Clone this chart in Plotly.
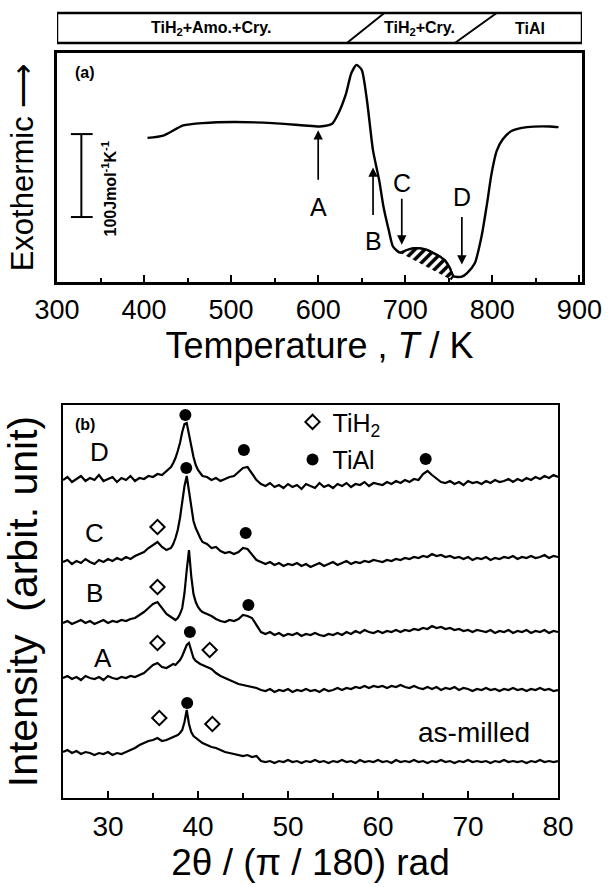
import plotly.graph_objects as go

FONT = "Liberation Sans, Arial, sans-serif"

# ---------------- Panel (a): DSC curve ----------------
dsc_T = [404, 422, 445, 467, 503, 548, 584, 602, 616, 623,
         632, 638, 644, 650, 656, 663, 670, 675, 681, 686,
         694, 702, 710, 717, 725, 732, 740, 746, 751, 755,
         760, 765, 771, 780, 786, 789, 794, 799, 805, 812,
         822, 840, 866, 876]
dsc_heat = [173.7, 176.5, 188.7, 191.5, 192.8, 191.5, 188.7, 187.5, 190.7, 202.9,
            227.2, 251.6, 261.7, 255.7, 219.1, 158.3, 122.9, 90.7, 62.6, 42.5,
            35.3, 38.5, 40.6, 40.4, 38.6, 35.2, 30.5, 25.5, 17.0, 7.0,
            6.0, 6.4, 10.8, 22.9, 46.9, 62.6, 95.0, 130.0, 158.0, 172.0,
            182.0, 186.7, 187.5, 186.7]

# hatched exothermic region (closed polygon)
hatch_T = [694, 702, 710, 717, 725, 732, 740, 746, 751, 755, 752]
hatch_heat = [35.3, 38.5, 40.6, 40.4, 38.6, 35.2, 30.5, 25.5, 17.0, 7.0, 3.0]

# sampling points A-D (arrow head, label position)
point_labels = ["A", "B", "C", "D"]
point_T = [600, 663, 696, 765]
arrow_head = [183, 138, 45, 21]
label_heat = [90, 50, 119, 103]
arrow_gap_px = [12, 10, 0, 5]

# scale bar (100 J mol-1 K-1)
scale_T = 328
scale_base = 78.3
scale_len = 100
scale_label_T = 360
scale_label_heat = 113

# phase band above panel (a)
phase_names = ["TiH<sub>2</sub>+Amo.+Cry.", "TiH<sub>2</sub>+Cry.", "TiAl"]
phase_label_T = [477, 716, 843]
phase_slash_T0 = [633, 757]
phase_slash_T1 = [676, 805]

temp_ticks = [300, 400, 500, 600, 700, 800, 900]

# ---------------- Panel (b): XRD patterns ----------------
two_theta = [25.0, 25.5, 26.0, 26.5, 27.0, 27.5, 28.0, 28.5, 29.0, 29.5,
             30.0, 30.5, 31.0, 31.5, 32.0, 32.5, 33.0, 33.5, 34.0, 34.5,
             35.0, 35.5, 36.0, 36.5, 37.0,
             37.25, 37.5, 37.75, 38.0, 38.25, 38.5, 38.75, 39.0, 39.25, 39.5,
             39.75, 40.0, 40.25, 40.5,
             41.0, 41.5, 42.0, 42.5, 43.0, 43.5, 44.0, 44.5, 45.0, 45.5,
             46.0, 46.5, 47.0, 47.5, 48.0, 48.5, 49.0, 49.5, 50.0, 50.5,
             51.0, 51.5, 52.0, 52.5, 53.0, 53.5, 54.0, 54.5, 55.0, 55.5,
             56.0, 56.5, 57.0, 57.5, 58.0, 58.5, 59.0, 59.5, 60.0,
             60.5, 61.0, 61.5, 62.0, 62.5, 63.0, 63.5, 64.0, 64.5, 65.0,
             65.5, 66.0, 66.5, 67.0, 67.5, 68.0, 68.5, 69.0, 69.5, 70.0,
             70.5, 71.0, 71.5, 72.0, 72.5, 73.0, 73.5, 74.0, 74.5, 75.0,
             75.5, 76.0, 76.5, 77.0, 77.5, 78.0, 78.5, 79.0, 79.5, 80.0]

xrd_D = [318, 321, 316, 319, 322, 317, 320, 318, 323, 317, 319, 321, 316, 320, 318, 322, 317, 320, 319, 322, 321, 324, 323, 327, 331,
         335, 340, 347, 355, 366, 374, 375, 364, 351, 341, 333, 328, 325, 322,
         321, 318, 320, 317, 319, 321, 322, 326, 330, 331, 325, 318, 314, 312, 315, 311, 313, 310, 314, 311,
         313, 309, 314, 312, 310, 315, 311, 313, 310, 314, 312, 315, 311, 314, 313, 316, 312, 315, 314,
         313, 316, 314, 317, 315, 318, 316, 319, 318, 324, 327, 323, 319, 316, 315, 317, 314, 316, 313, 317,
         315, 316, 314, 317, 315, 318, 316, 317, 319, 316, 319, 317, 320, 318, 321, 319, 322, 320, 323, 321]
xrd_C = [236, 238, 234, 237, 235, 239, 236, 234, 238, 236, 239, 237, 240, 238, 241, 239, 242, 244, 246, 250, 253, 256, 251, 248, 250,
         254, 260, 268, 280, 296, 312, 322, 306, 289, 277, 270, 264, 260, 256,
         254, 250, 251, 247, 245, 246, 244, 246, 250, 249, 243, 238, 236, 234, 236, 233, 235, 232, 234, 233,
         235, 232, 234, 231, 233, 235, 232, 234, 236, 233, 235, 237, 234, 236, 235, 237, 236, 238, 237,
         236, 238, 237, 239, 238, 240, 239, 241, 240, 242, 241, 244, 242, 243, 241, 242, 240, 241, 239, 241,
         238, 240, 239, 241, 238, 240, 239, 241, 240, 242, 239, 241, 240, 242, 240, 241, 243, 240, 242, 241]
xrd_B = [175, 177, 174, 176, 178, 175, 177, 174, 176, 178, 175, 177, 176, 178, 177, 179, 180, 183, 186, 190, 194, 196, 190, 184, 181,
         179, 178, 180, 184, 190, 205, 228, 248, 222, 204, 196, 191, 188, 186,
         184, 182, 179, 177, 176, 178, 177, 179, 183, 182, 180, 173, 166, 164, 166, 163, 165, 162, 164, 163,
         165, 162, 164, 163, 165, 163, 162, 164, 163, 165, 163, 166, 164, 167, 165, 168, 166, 165, 167,
         165, 167, 166, 168, 166, 168, 167, 169, 168, 170, 169, 172, 170, 171, 169, 170, 168, 169, 167, 168,
         166, 168, 167, 166, 168, 165, 167, 166, 168, 165, 167, 166, 168, 165, 167, 166, 168, 165, 167, 166]
xrd_A = [120, 122, 119, 121, 118, 122, 120, 119, 121, 118, 122, 120, 119, 121, 120, 122, 121, 123, 125, 129, 133, 135, 131, 130, 133,
         134, 133, 135, 138, 142, 148, 153, 155, 146, 140, 137, 135, 134, 133,
         131, 129, 125, 122, 120, 118, 116, 114, 113, 112, 111, 110, 108, 107, 109, 106, 108, 107, 109, 106,
         108, 107, 109, 107, 108, 106, 109, 107, 108, 110, 108, 110, 109, 111, 110, 112, 110, 112, 111,
         112, 110, 112, 111, 113, 111, 110, 112, 110, 109, 111, 109, 111, 108, 110, 109, 111, 108, 110, 109,
         107, 109, 108, 110, 108, 109, 107, 109, 108, 110, 108, 109, 107, 109, 108, 110, 108, 109, 107, 108]
xrd_milled = [46, 48, 45, 47, 44, 46, 45, 43, 45, 44, 46, 43, 45, 44, 46, 48, 50, 53, 55, 57, 58, 60, 57, 58, 60,
              61, 62, 63, 65, 68, 76, 88, 74, 66, 62, 60, 58, 56, 55,
              53, 51, 50, 48, 46, 45, 44, 43, 42, 43, 41, 42, 37, 36, 37, 35, 37, 36, 38, 36,
              37, 35, 37, 36, 38, 36, 37, 35, 37, 36, 38, 36, 37, 35, 38, 36, 37, 36, 38,
              36, 37, 35, 38, 36, 37, 36, 38, 36, 37, 35, 37, 36, 38, 36, 37, 35, 37, 36, 38,
              36, 37, 36, 37, 35, 37, 36, 38, 36, 37, 36, 37, 35, 37, 36, 38, 36, 37, 36, 37]

# phase markers
tih2_x = [35.5, 35.5, 35.5, 41.3, 35.7, 41.6]
tih2_y = [271, 211, 155, 148, 80, 74]
tial_x = [38.6, 45.1, 65.3, 38.7, 45.3, 45.6, 39.1, 38.8]
tial_y = [383, 348, 339, 330, 265, 193, 166, 95]

# curve labels
xrd_labels = ["(b)", "D", "C", "B", "A", "as-milled"]
xrd_label_x = [27.5, 29.1, 28.5, 28.5, 29.4, 70.7]
xrd_label_y = [374, 346, 265, 205, 140, 66]

theta_ticks = [30, 40, 50, 60, 70, 80]

# ---------------- Figure ----------------
fig = go.Figure()
black = "black"

fig.add_trace(go.Scatter(x=dsc_T, y=dsc_heat, mode="lines",
                         line=dict(color=black, width=2.4, shape="spline", smoothing=0.6),
                         showlegend=False, xaxis="x", yaxis="y", hoverinfo="skip"))
fig.add_trace(go.Scatter(x=hatch_T, y=hatch_heat, mode="lines", fill="toself", fillcolor="white",
                         fillpattern=dict(shape="/", fgcolor=black, bgcolor="white", size=7, solidity=0.5),
                         line=dict(color=black, width=2.2), showlegend=False, xaxis="x", yaxis="y",
                         hoverinfo="skip"))

for ys in [xrd_D, xrd_C, xrd_B, xrd_A, xrd_milled]:
    fig.add_trace(go.Scatter(x=two_theta, y=ys, mode="lines", line=dict(color=black, width=2.2),
                             showlegend=False, xaxis="x2", yaxis="y2", hoverinfo="skip"))

fig.add_trace(go.Scatter(x=tih2_x, y=tih2_y, mode="markers", name="TiH<sub>2</sub>", legendgroup="g1",
                         marker=dict(symbol="diamond-open", size=11, color=black, line=dict(width=2, color=black)),
                         xaxis="x2", yaxis="y2"))
fig.add_trace(go.Scatter(x=tial_x, y=tial_y, mode="markers", name="TiAl", legendgroup="g2",
                         marker=dict(symbol="circle", size=12, color=black),
                         xaxis="x2", yaxis="y2"))

annotations = []
# labelled arrows A-D
for lab, t, head, lh, gap in zip(point_labels, point_T, arrow_head, label_heat, arrow_gap_px):
    annotations.append(dict(x=t, y=head, ax=t, ay=lh, xref="x", yref="y", axref="x", ayref="y",
                            text=lab, showarrow=True, arrowhead=2, arrowsize=1.1, arrowwidth=1.7,
                            arrowcolor=black, startstandoff=gap,
                            font=dict(family=FONT, size=25, color=black)))
annotations.append(dict(x=332, y=253, xref="x", yref="y", text="<b>(a)</b>", showarrow=False,
                        xanchor="center", yanchor="middle",
                        font=dict(family=FONT, size=16, color=black)))
annotations.append(dict(x=scale_label_T, y=scale_label_heat, xref="x", yref="y",
                        text="<b>100Jmol<sup>-1</sup>K<sup>-1</sup></b>", textangle=-90, showarrow=False,
                        xanchor="center", yanchor="middle",
                        font=dict(family=FONT, size=16, color=black)))
# phase band labels
for name, t in zip(phase_names, phase_label_T):
    annotations.append(dict(x=t, y=0.9684, xref="x", yref="paper", text="<b>" + name + "</b>", showarrow=False,
                            xanchor="center", yanchor="middle",
                            font=dict(family=FONT, size=16, color=black)))
# xrd labels
for lab, x, y in zip(xrd_labels, xrd_label_x, xrd_label_y):
    if lab == "(b)":
        txt, size = "<b>(b)</b>", 16
    elif lab == "as-milled":
        txt, size = lab, 28
    else:
        txt, size = lab, 26
    annotations.append(dict(x=x, y=y, xref="x2", yref="y2", text=txt, showarrow=False,
                            xanchor="center", yanchor="middle",
                            font=dict(family=FONT, size=size, color=black)))

shapes = []
# scale bar
shapes.append(dict(type="line", xref="x", yref="y", x0=scale_T, x1=scale_T, y0=scale_base, y1=scale_base + scale_len,
                   line=dict(color=black, width=2)))
for yy in [scale_base, scale_base + scale_len]:
    shapes.append(dict(type="line", xref="x", yref="y", x0=scale_T - 12, x1=scale_T + 13, y0=yy, y1=yy,
                       line=dict(color=black, width=2)))
# phase band box and slashes
shapes.append(dict(type="rect", xref="x", yref="paper", x0=temp_ticks[0], x1=903, y0=0.9515, y1=0.9853,
                   line=dict(color=black, width=2.5)))
for t0, t1 in zip(phase_slash_T0, phase_slash_T1):
    shapes.append(dict(type="line", xref="x", yref="paper", x0=t0, x1=t1, y0=0.9515, y1=0.9853,
                       line=dict(color=black, width=2)))

line_common = dict(showline=True, linecolor=black, mirror=True, showgrid=False, zeroline=False,
                   tickcolor=black, automargin=False)

fig.update_layout(
    template="none",
    width=612, height=887, margin=dict(l=0, r=0, t=0, b=0, pad=0),
    paper_bgcolor="white", plot_bgcolor="white",
    font=dict(family=FONT, color=black),
    xaxis=dict(domain=[0.0931, 0.9510], range=[300, 903], anchor="y", tickvals=temp_ticks,
               ticks="inside", ticklen=7, tickwidth=2, linewidth=2.5, tickfont=dict(size=27),
               ticklabelstandoff=2,
               minor=dict(ticks="inside", ticklen=4, tickwidth=1.5, dtick=50, tick0=300, tickcolor=black,
                          showgrid=False),
               title=dict(text="Temperature , <i>T</i> / K", font=dict(size=36), standoff=2),
               **line_common),
    yaxis=dict(domain=[0.6821, 0.9402], range=[0, 276], anchor="x", showticklabels=False,
               ticks="", linewidth=2.5,
               title=dict(text="Exothermic ⟶", font=dict(size=31), standoff=12),
               **line_common),
    xaxis2=dict(domain=[0.1029, 0.9118], range=[25, 80], anchor="y2", tickvals=theta_ticks,
                ticks="inside", ticklen=7, tickwidth=2, linewidth=2, tickfont=dict(size=28),
                ticklabelstandoff=2,
                minor=dict(ticks="inside", ticklen=5, tickwidth=1.5, dtick=5, tick0=25, tickcolor=black,
                           showgrid=False),
                title=dict(text="2θ / (π / 180) rad", font=dict(size=37), standoff=8),
                **line_common),
    yaxis2=dict(domain=[0.1003, 0.5434], range=[0, 393], anchor="x2", showticklabels=False,
                ticks="", linewidth=2,
                title=dict(text="Intensity  (arbit. unit)", font=dict(size=41), standoff=14),
                **line_common),
    legend=dict(x=0.478, y=0.550, xanchor="left", yanchor="top", font=dict(size=25, family=FONT),
                bgcolor="rgba(0,0,0,0)", tracegroupgap=2, itemsizing="trace"),
    annotations=annotations,
    shapes=shapes,
)

fig.write_html("out.html")
